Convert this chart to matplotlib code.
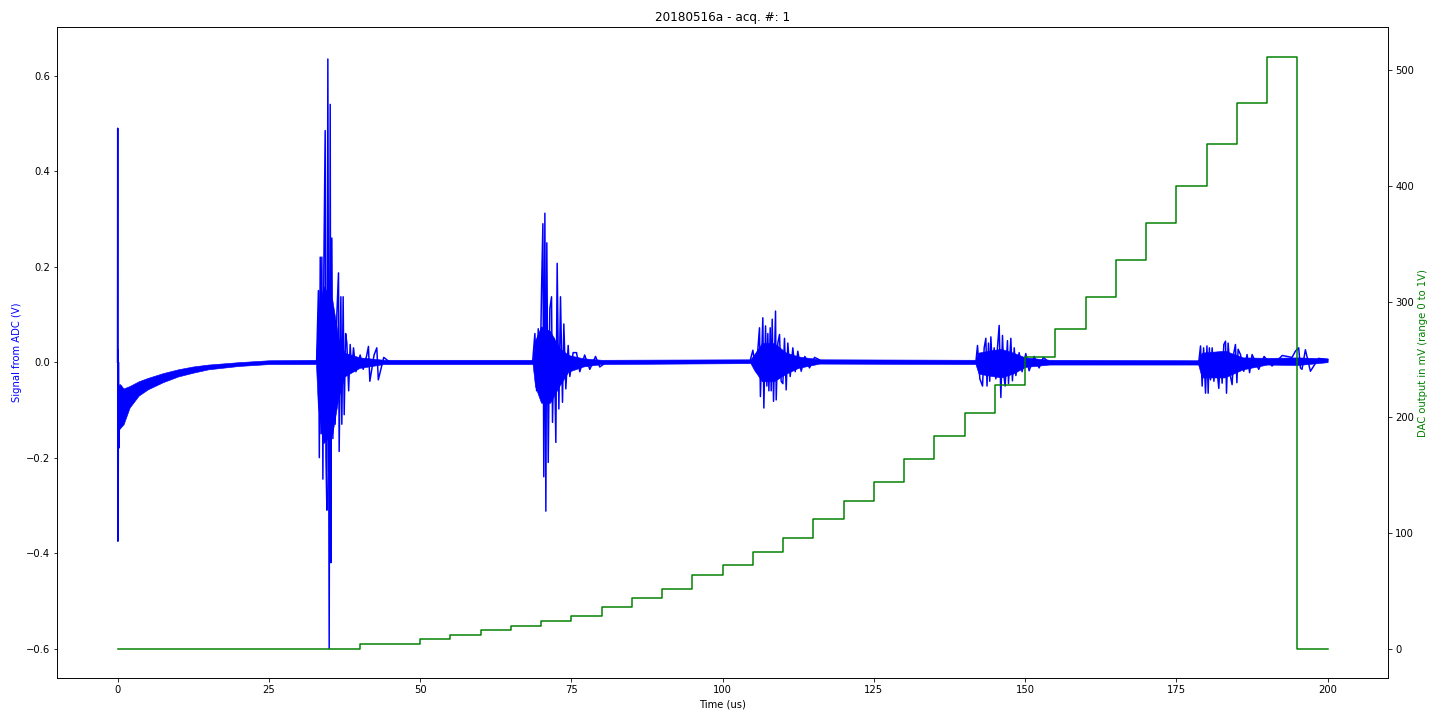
import matplotlib
matplotlib.use('Agg')
import matplotlib.pyplot as plt
import numpy as np

# noise band of the ADC signal (time us, upper V, lower V)
env_t = [0.3, 1.0, 2.0, 3.5, 5, 7.5, 10, 12.5, 15, 20, 25, 32.8,
         33.1, 34.0, 35.5, 36.5, 37.5, 40, 44,
         68.6, 69.0, 70.0, 71.5, 73.0, 74.5, 77, 80,
         104.6, 105.2, 106.5, 108.5, 110.5, 112.5, 116,
         141.8, 142.3, 144, 146, 148, 150, 154,
         178.6, 179.2, 183, 186, 190, 195, 200]
env_hi = [-0.045, -0.055, -0.05, -0.04, -0.033, -0.023, -0.015, -0.009, -0.005, 0.0, 0.004, 0.005,
          0.09, 0.16, 0.13, 0.05, 0.02, 0.01, 0.005,
          0.005, 0.045, 0.075, 0.065, 0.03, 0.015, 0.008, 0.005,
          0.006, 0.016, 0.04, 0.04, 0.02, 0.012, 0.006,
          0.005, 0.02, 0.024, 0.028, 0.02, 0.01, 0.005,
          0.004, 0.02, 0.024, 0.01, 0.009, 0.01, 0.008]
env_lo = [-0.14, -0.13, -0.095, -0.07, -0.057, -0.042, -0.03, -0.022, -0.015, -0.008, -0.004, -0.004,
          -0.09, -0.17, -0.15, -0.075, -0.03, -0.012, -0.004,
          -0.004, -0.05, -0.085, -0.085, -0.05, -0.02, -0.009, -0.004,
          -0.002, -0.016, -0.04, -0.04, -0.024, -0.012, -0.003,
          -0.004, -0.024, -0.028, -0.032, -0.024, -0.01, -0.005,
          -0.005, -0.032, -0.032, -0.015, -0.005, -0.006, 0.0]

# individual swings of the echoes
start_t = [0.0, 0.03, 0.06, 0.09, 0.12, 0.15, 0.2, 0.25, 0.32, 0.4, 0.5, 0.65, 0.8, 1.0, 1.3]
start_v = [0.0, 0.49, -0.375, 0.025, -0.25, 0.0, -0.18, -0.05, -0.14, -0.06, -0.13, -0.05, -0.12, -0.06, -0.11]

echo1_t = [32.9, 33.2, 33.35, 33.5, 33.65, 33.77, 33.94, 34.1, 34.32, 34.45, 34.6, 34.76, 34.98,
           35.15, 35.26, 35.42, 35.59, 35.81, 35.97, 36.25, 36.52, 36.63, 36.91, 37.07, 37.29,
           37.46, 37.7, 37.9, 38.2, 38.45, 38.7, 39.0, 39.4, 40.1, 40.6, 41.2, 41.47, 41.7,
           42.4, 42.85, 43.1, 44.0, 45.0]
echo1_v = [0.0, 0.15, -0.2, 0.22, -0.15, 0.22, -0.245, 0.2, 0.485, -0.2, -0.31, 0.635, -0.6,
           0.54, -0.42, 0.26, -0.16, 0.07, -0.13, 0.1, 0.187, -0.187, 0.137, -0.13, 0.137,
           -0.11, 0.06, 0.04, -0.06, 0.037, -0.02, 0.03, -0.02, 0.015, -0.015, 0.015, 0.033, -0.04,
           0.015, 0.03, -0.037, 0.01, 0.0]

echo2_t = [68.6, 68.98, 69.26, 69.53, 69.8, 70.08, 70.3, 70.45, 70.63, 70.79, 70.95, 71.18,
           71.45, 71.73, 71.89, 72.16, 72.44, 72.66, 72.94, 73.21, 73.54, 73.76, 74.09, 74.48,
           74.75, 75.3, 75.86, 76.4, 77.2, 78.05, 79.0, 79.7, 80.8]
echo2_v = [0.0, 0.06, -0.06, 0.07, -0.07, 0.154, 0.29, -0.24, 0.312, -0.312, 0.25, -0.21,
           0.112, 0.137, -0.126, 0.05, -0.168, 0.207, -0.098, 0.137, -0.084, 0.08, -0.056, 0.035,
           -0.03, 0.02, 0.02, -0.02, 0.015, -0.015, 0.012, -0.01, 0.0]

echo3_t = [104.6, 105.0, 105.55, 106.1, 106.25, 106.65, 106.82, 107.1, 107.32, 107.48, 107.65,
           107.87, 108.03, 108.2, 108.42, 108.75, 108.86, 109.13, 109.41, 109.68, 109.96,
           110.23, 110.51, 110.78, 111.17, 111.61, 112.0, 112.43, 112.99, 113.6, 114.36, 115.2, 116.0]
echo3_v = [0.005, 0.025, -0.02, 0.072, -0.072, 0.093, -0.096, 0.076, -0.05, 0.06, -0.06,
           0.072, -0.06, 0.09, -0.082, 0.107, -0.079, 0.04, 0.058, -0.04, -0.045,
           0.05, -0.058, 0.04, -0.03, 0.03, -0.02, 0.023, -0.019, 0.012, -0.012, 0.01, 0.005]

echo4_t = [141.86, 142.13, 142.52, 142.96, 143.23, 143.51, 143.7, 143.95, 144.15, 144.34, 144.6,
           144.88, 145.16, 145.43, 145.71, 145.99, 146.26, 146.5, 146.7, 147.08, 147.25, 147.64,
           147.9, 148.2, 148.47, 149.01, 149.5, 150.11, 150.66, 151.5, 152.31, 153.0, 153.96]
echo4_v = [0.0, 0.035, -0.035, -0.05, 0.03, 0.05, -0.05, 0.04, -0.04, 0.053, -0.02,
           0.03, -0.035, 0.03, 0.077, -0.074, 0.056, -0.03, -0.05, 0.045, -0.045, 0.05,
           -0.039, 0.03, -0.028, 0.02, -0.02, 0.018, -0.018, 0.012, -0.012, 0.01, 0.0]

echo5_t = [178.7, 178.99, 179.26, 179.5, 179.82, 180.05, 180.25, 180.45, 180.64, 180.91, 181.2,
           181.47, 182.01, 182.3, 182.56, 182.84, 183.12, 183.28, 183.55, 183.94, 184.21, 184.5,
           184.76, 185.0, 185.2, 185.59, 186.14, 186.68, 187.1, 187.51, 188.61, 189.5, 190.81,
           192.5, 194.11, 194.67, 195.21, 195.5, 195.76, 196.32, 197.15, 198.5, 200.0]
echo5_v = [0.0, 0.034, -0.05, 0.03, -0.065, 0.034, -0.065, 0.03, -0.037, 0.03, -0.04,
           0.016, -0.055, 0.02, -0.044, 0.037, 0.044, -0.065, 0.04, -0.03, -0.047, 0.02,
           0.037, -0.043, 0.027, 0.016, -0.019, 0.016, -0.022, 0.016, -0.015, 0.012, -0.008,
           0.014, 0.01, 0.023, 0.03, -0.012, -0.015, 0.026, -0.019, 0.008, 0.005]

# DAC ramp (step starts, mV)
dac_t = [0, 40, 50, 55, 60, 65, 70, 75, 80, 85, 90, 95, 100, 105, 110, 115, 120, 125, 130,
         135, 140, 145, 150, 155, 160, 165, 170, 175, 180, 185, 190, 195, 200]
dac_mv = [0, 4, 8, 12, 16, 20, 24, 28, 36, 44, 52, 64, 72, 84, 96, 112, 128, 144, 164,
          184, 204, 228, 252, 276, 304, 336, 368, 400, 436, 472, 512, 0, 0]

fig = plt.figure(figsize=(20, 10), dpi=72)
ax = fig.add_subplot(111)
fig.subplots_adjust(left=0.0396, right=0.964, top=0.9625, bottom=0.058)

ax.fill_between(env_t, env_lo, env_hi, color='b', lw=0.6, edgecolor='b')
for tt, vv in [(start_t, start_v), (echo1_t, echo1_v), (echo2_t, echo2_v),
               (echo3_t, echo3_v), (echo4_t, echo4_v), (echo5_t, echo5_v)]:
    ax.plot(tt, vv, color='b', lw=1.5)

ax.set_xlabel('Time (us)')
ax.set_ylabel('Signal from ADC (V)', color='b')
ax.set_title('20180516a - acq. #: 1')
ax.set_xlim(-10, 210)
ax.set_ylim(-0.662, 0.702)

ax2 = ax.twinx()
ax2.step(dac_t, dac_mv, where='post', color='g', lw=1.5)
ax2.set_ylabel('DAC output in mV (range 0 to 1V)', color='g')
ax2.set_ylim(-25.6, 537.6)

fig.savefig('out.png', dpi=72)
